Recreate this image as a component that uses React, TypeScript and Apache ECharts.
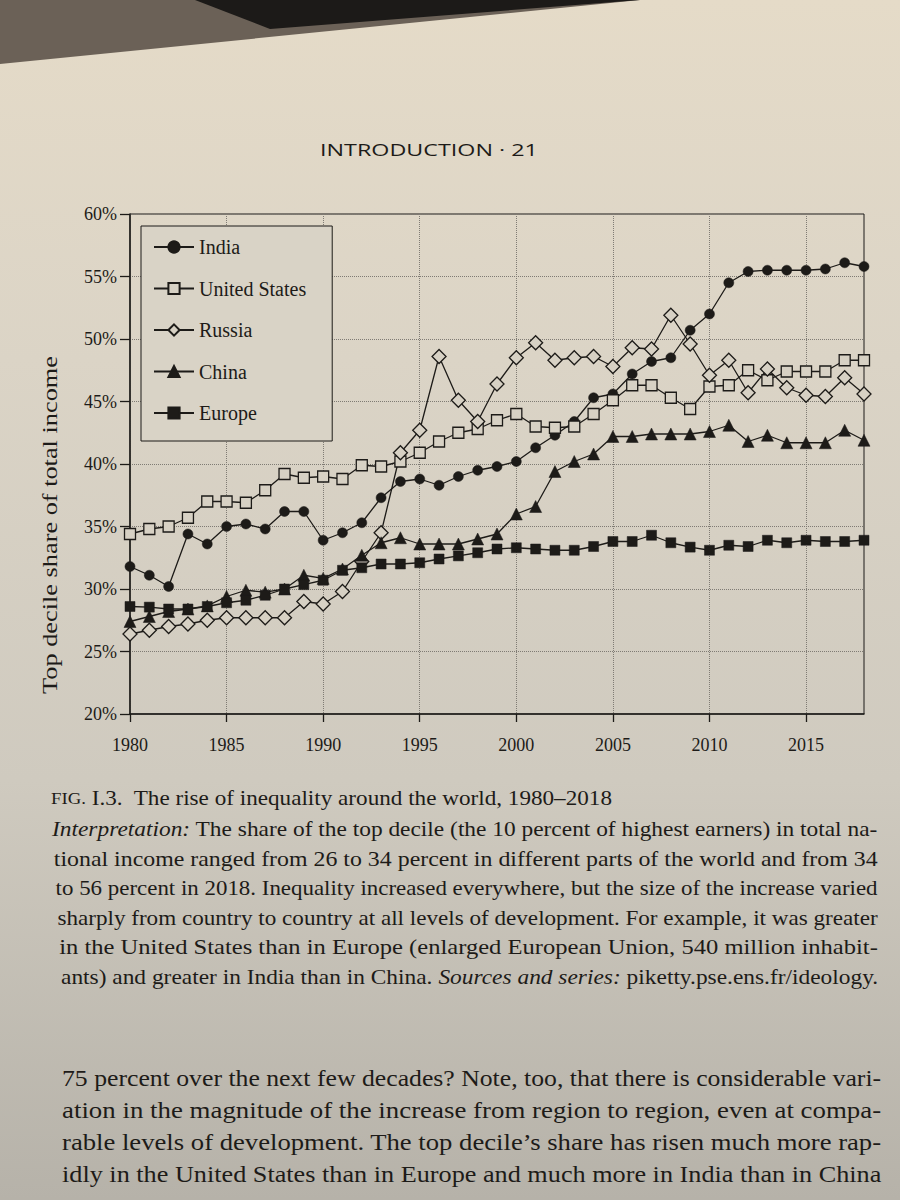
import React, { useEffect, useRef } from "react";
import * as echarts from "echarts";

// ---------- data ----------
const YEARS = [
  1980, 1981, 1982, 1983, 1984, 1985, 1986, 1987, 1988, 1989,
  1990, 1991, 1992, 1993, 1994, 1995, 1996, 1997, 1998, 1999,
  2000, 2001, 2002, 2003, 2004, 2005, 2006, 2007, 2008, 2009,
  2010, 2011, 2012, 2013, 2014, 2015, 2016, 2017, 2018,
];
const INDIA = [
  31.8, 31.1, 30.2, 34.4, 33.6, 35.0, 35.2, 34.8, 36.2, 36.2,
  33.9, 34.5, 35.3, 37.3, 38.6, 38.8, 38.3, 39.0, 39.5, 39.8,
  40.2, 41.3, 42.3, 43.4, 45.3, 45.6, 47.2, 48.2, 48.5, 50.7,
  52.0, 54.5, 55.4, 55.5, 55.5, 55.5, 55.6, 56.1, 55.8,
];
const UNITED_STATES = [
  34.4, 34.8, 35.0, 35.7, 37.0, 37.0, 36.9, 37.9, 39.2, 38.9,
  39.0, 38.8, 39.9, 39.8, 40.2, 40.9, 41.8, 42.5, 42.8, 43.5,
  44.0, 43.0, 42.9, 43.0, 44.0, 45.1, 46.3, 46.3, 45.3, 44.4,
  46.2, 46.3, 47.5, 46.7, 47.4, 47.4, 47.4, 48.3, 48.3,
];
const RUSSIA = [
  26.4, 26.7, 27.0, 27.2, 27.5, 27.7, 27.7, 27.7, 27.7, 29.0,
  28.8, 29.8, 32.2, 34.5, 40.9, 42.7, 48.6, 45.1, 43.4, 46.4,
  48.5, 49.7, 48.3, 48.5, 48.6, 47.8, 49.3, 49.2, 51.9, 49.6,
  47.1, 48.3, 45.7, 47.6, 46.1, 45.5, 45.4, 46.9, 45.6,
];
const CHINA = [
  27.4, 27.8, 28.2, 28.4, 28.65, 29.4, 29.9, 29.75, 30.0, 31.1,
  30.85, 31.6, 32.7, 33.7, 34.1, 33.6, 33.6, 33.6, 34.0, 34.4,
  36.0, 36.6, 39.4, 40.2, 40.8, 42.2, 42.2, 42.4, 42.4, 42.4,
  42.6, 43.1, 41.8, 42.3, 41.7, 41.7, 41.7, 42.7, 41.9,
];
const EUROPE = [
  28.6, 28.55, 28.4, 28.4, 28.6, 28.9, 29.1, 29.5, 30.0, 30.35,
  30.7, 31.5, 31.7, 32.0, 32.0, 32.1, 32.4, 32.65, 32.9, 33.2,
  33.3, 33.2, 33.1, 33.1, 33.4, 33.8, 33.8, 34.3, 33.7, 33.35,
  33.1, 33.5, 33.4, 33.9, 33.7, 33.9, 33.8, 33.8, 33.9,
];
const SERIES_NAMES = ["India", "United States", "Russia", "China", "Europe"];
const X_TICKS = [1980, 1985, 1990, 1995, 2000, 2005, 2010, 2015];
const Y_MIN = 20;
const Y_MAX = 60;
const Y_STEP = 5;
const Y_TITLE = "Top decile share of total income";
const HEADER = "INTRODUCTION · 21";

type Seg = { t: string; i?: boolean; sc?: boolean };
const CAPTION_TITLE: Seg[] = [
  { t: "FIG.", sc: true },
  { t: " I.3.  The rise of inequality around the world, 1980–2018" },
];
const CAPTION_LINES: Seg[][] = [
  [{ t: "Interpretation:", i: true }, { t: " The share of the top decile (the 10 percent of highest earners) in total na-" }],
  [{ t: "tional income ranged from 26 to 34 percent in different parts of the world and from 34" }],
  [{ t: "to 56 percent in 2018. Inequality increased everywhere, but the size of the increase varied" }],
  [{ t: "sharply from country to country at all levels of development. For example, it was greater" }],
  [{ t: "in the United States than in Europe (enlarged European Union, 540 million inhabit-" }],
  [{ t: "ants) and greater in India than in China. " }, { t: "Sources and series:", i: true }, { t: " piketty.pse.ens.fr/ideology." }],
];
const BODY_LINES: Seg[][] = [
  [{ t: "75 percent over the next few decades? Note, too, that there is considerable vari-" }],
  [{ t: "ation in the magnitude of the increase from region to region, even at compa-" }],
  [{ t: "rable levels of development. The top decile’s share has risen much more rap-" }],
  [{ t: "idly in the United States than in Europe and much more in India than in China" }],
];

// ---------- style ----------
const INK = "#1d1b18";
const HOLLOW = "#d7d1c4";
const SERIF = '"Liberation Serif", "Times New Roman", serif';
const SANS = '"Open Sans", "Noto Sans", sans-serif';

export default function App() {
  const ref = useRef<HTMLDivElement>(null);

  useEffect(() => {
    document.body.style.margin = "0";
    const el = ref.current;
    if (!el) return;
    const chart = echarts.init(el, null, { renderer: "svg" });

    const ctx = document.createElement("canvas").getContext("2d")!;
    const measure = (t: string, font: string) => {
      ctx.font = font;
      return ctx.measureText(t).width;
    };

    const textLine = (segs: Seg[], x: number, y: number, size: number, target?: number) => {
      const sc = Math.round(size * 0.8);
      let w = 0;
      const parts = segs.map((s) => {
        const fs = s.sc ? sc : size;
        const font = `${s.i ? "italic " : ""}${fs}px "Liberation Serif"`;
        w += measure(s.t, font);
        return `{${s.i ? "it" : s.sc ? "sc" : "n"}|${s.t}}`;
      });
      const scaleX = target ? target / w : 1;
      return {
        type: "text",
        x,
        y,
        scaleX,
        silent: true,
        style: {
          text: parts.join(""),
          fill: INK,
          fontFamily: SERIF,
          fontSize: size,
          align: "left",
          textAlign: "left",
          verticalAlign: "middle",
          textVerticalAlign: "middle",
          rich: {
            n: { fontFamily: SERIF, fontSize: size, fill: INK },
            it: { fontFamily: SERIF, fontSize: size, fontStyle: "italic", fill: INK },
            sc: { fontFamily: SERIF, fontSize: sc, fill: INK },
          },
        },
      };
    };

    const graphics: any[] = [];
    // paper
    graphics.push({
      type: "rect",
      z: -100,
      silent: true,
      shape: { x: 0, y: 0, width: 900, height: 1200 },
      style: {
        fill: new echarts.graphic.LinearGradient(0, 0, 0, 1, [
          { offset: 0, color: "#e5dbc8" },
          { offset: 0.3, color: "#dbd4c6" },
          { offset: 0.65, color: "#cfcabf" },
          { offset: 1, color: "#b6b2a9" },
        ]),
      },
    });
    // dark area above the page edge
    graphics.push({
      type: "polygon",
      z: -99,
      silent: true,
      shape: { points: [[0, 0], [640, 0], [0, 64]] },
      style: { fill: "#6b6157" },
    });
    graphics.push({
      type: "polygon",
      z: -98,
      silent: true,
      shape: { points: [[195, 0], [640, 0], [270, 29]] },
      style: { fill: "#1c1a18" },
    });
    // running head
    {
      const w = measure(HEADER, `17px "Open Sans"`);
      graphics.push({
        type: "text",
        x: 320,
        y: 149,
        scaleX: 218 / w,
        silent: true,
        style: {
          text: HEADER,
          fill: INK,
          fontFamily: SANS,
          fontSize: 17,
          align: "left",
          textAlign: "left",
          verticalAlign: "middle",
          textVerticalAlign: "middle",
        },
      });
    }
    // y-axis title
    {
      const w = measure(Y_TITLE, `22px "Liberation Serif"`);
      graphics.push({
        type: "text",
        x: 49,
        y: 525,
        rotation: Math.PI / 2,
        scaleX: 338 / w,
        silent: true,
        style: {
          text: Y_TITLE,
          fill: INK,
          fontFamily: SERIF,
          fontSize: 22,
          align: "center",
          textAlign: "center",
          verticalAlign: "middle",
          textVerticalAlign: "middle",
        },
      });
    }
    // caption
    graphics.push(textLine(CAPTION_TITLE, 51, 798, 21, 562));
    CAPTION_LINES.forEach((segs, i) => {
      const left = 52 + i * 1.8;
      graphics.push(textLine(segs, left, 829 + i * 29.5, 21, 878 - left));
    });
    // body text
    BODY_LINES.forEach((segs, i) => {
      const left = 62;
      graphics.push(textLine(segs, left, 1078 + i * 32, 23, 882 - left));
    });

    const mk = (
      name: string,
      values: number[],
      symbol: string,
      size: number,
      hollow: boolean
    ) => ({
      type: "line",
      name,
      data: YEARS.map((y, i) => [y, values[i]]),
      symbol,
      symbolSize: size,
      showAllSymbol: true,
      lineStyle: { color: INK, width: 1.3 },
      itemStyle: {
        color: hollow ? HOLLOW : INK,
        borderColor: INK,
        borderWidth: hollow ? 1.3 : 0.5,
      },
      emphasis: { disabled: true },
      silent: true,
    });

    chart.setOption({
      animation: false,
      grid: {
        left: 130,
        top: 214,
        width: 734,
        height: 500,
        show: true,
        borderColor: INK,
        borderWidth: 1,
        backgroundColor: "transparent",
      },
      legend: {
        orient: "vertical",
        left: 141,
        top: 226,
        data: SERIES_NAMES,
        backgroundColor: "#d9d3c6",
        borderColor: INK,
        borderWidth: 1,
        borderRadius: 0,
        padding: [11, 26, 18, 12],
        itemWidth: 40,
        itemHeight: 14,
        itemGap: 21.5,
        textStyle: { fontFamily: SERIF, fontSize: 20, color: INK, lineHeight: 20 },
        selectedMode: false,
      },
      xAxis: {
        type: "value",
        min: 1980,
        max: 2018,
        interval: 5,
        axisLine: { show: true, lineStyle: { color: INK, width: 1.5 } },
        axisTick: {
          show: true,
          inside: false,
          length: 8,
          customValues: X_TICKS,
          lineStyle: { color: INK, width: 1.3 },
        },
        axisLabel: {
          margin: 22,
          customValues: X_TICKS,
          fontFamily: SERIF,
          fontSize: 18,
          color: INK,
          formatter: (v: number) => String(v),
        },
        splitLine: { show: true, lineStyle: { color: "#7f7b74", width: 1, type: "dotted" } },
      },
      yAxis: {
        type: "value",
        min: Y_MIN,
        max: Y_MAX,
        interval: Y_STEP,
        axisLine: { show: true, lineStyle: { color: INK, width: 1.5 } },
        axisTick: { show: true, inside: false, length: 10, lineStyle: { color: INK, width: 1.3 } },
        axisLabel: {
          margin: 13,
          fontFamily: SERIF,
          fontSize: 18,
          color: INK,
          formatter: (v: number) => `${v}%`,
        },
        splitLine: { show: true, lineStyle: { color: "#7f7b74", width: 1, type: "dotted" } },
      },
      graphic: { elements: graphics },
      series: [
        mk("India", INDIA, "circle", 10, false),
        mk("United States", UNITED_STATES, "rect", 11, true),
        mk("Russia", RUSSIA, "diamond", 14, true),
        mk("China", CHINA, "triangle", 12, false),
        mk("Europe", EUROPE, "rect", 10, false),
      ],
    });

    return () => chart.dispose();
  }, []);

  return <div ref={ref} style={{ width: 900, height: 1200, display: "block" }} />;
}
